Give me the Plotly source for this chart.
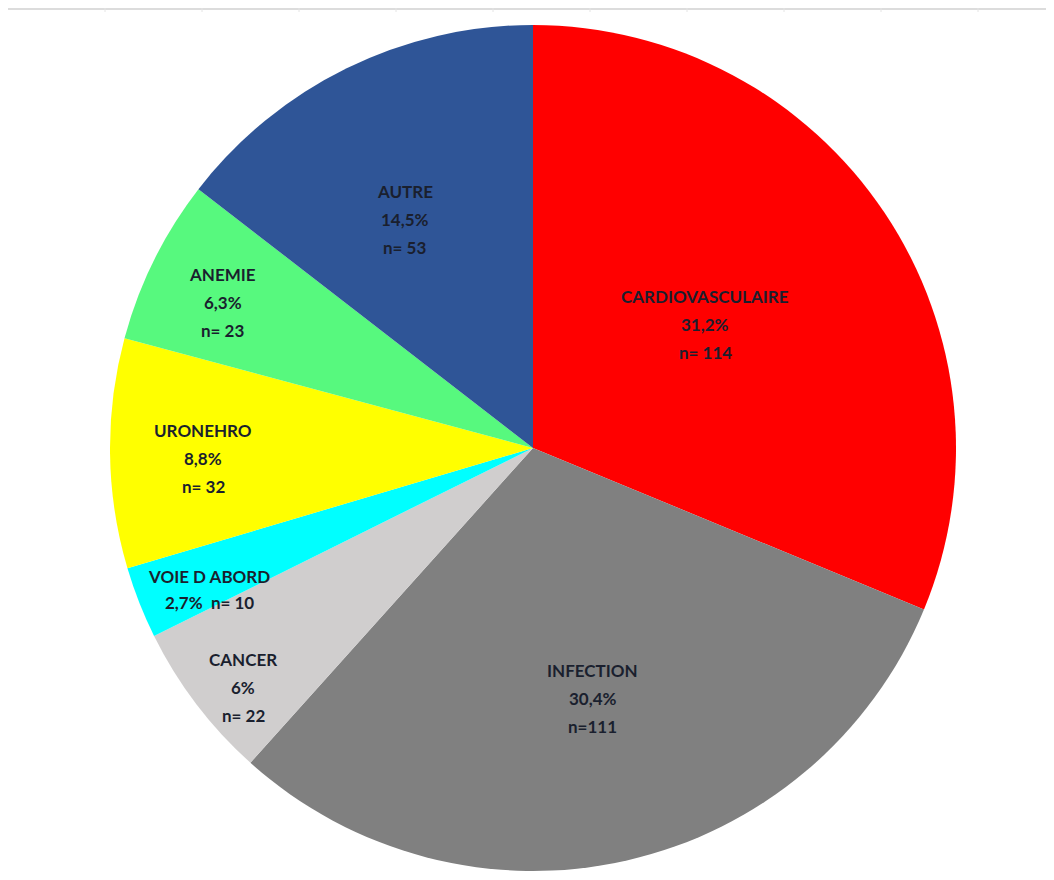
import math
import plotly.graph_objects as go

# ---- data ----
categories = ["CARDIOVASCULAIRE", "INFECTION", "CANCER", "VOIE D ABORD",
              "URONEHRO", "ANEMIE", "AUTRE"]
counts = [114, 111, 22, 10, 32, 23, 53]
pct_labels = ["31,2%", "30,4%", "6%", "2,7%", "8,8%", "6,3%", "14,5%"]
n_labels = ["n= 114", "n=111", "n= 22", "n= 10", "n= 32", "n= 23", "n= 53"]

# ---- style ----
colors = ["#FF0000", "#808080", "#D0CECE", "#00FFFF", "#FFFF00", "#57F97E", "#2F5597"]
label_radius = [0.50, 0.61, 0.888, 0.836, 0.78, 0.81, 0.62]   # fraction of R
label_dangle = [-1.8, -0.6, -2.3, -2.2, -1.0, -1.2, -3.2]     # degrees from slice middle
PAGE_OFF = 8  # default body margin of the html page
W, H = 1054 - PAGE_OFF, 880 - PAGE_OFF
CX, CY, R = 533 - PAGE_OFF, 448 - PAGE_OFF, 423  # pie centre / radius in px
TXT = "#1a1f2e"
FONT = "Lato"

dom_x = [(CX - R) / W, (CX + R) / W]
dom_y = [1 - (CY + R) / H, 1 - (CY - R) / H]

fig = go.Figure(go.Pie(
    labels=categories, values=counts, sort=False, direction="clockwise",
    rotation=0, marker=dict(colors=colors, line=dict(width=0)),
    textinfo="none", hoverinfo="label+value+percent", showlegend=False,
    domain=dict(x=dom_x, y=dom_y),
))

total = sum(counts)
cum = 0
annotations = []
for i, c in enumerate(categories):
    mid = (cum + counts[i] / 2) / total * 2 * math.pi + math.radians(label_dangle[i])
    cum += counts[i]
    px = CX + label_radius[i] * R * math.sin(mid)
    py = CY - label_radius[i] * R * math.cos(mid)
    if c == "VOIE D ABORD":
        lines = [c, pct_labels[i] + "  " + n_labels[i]]
        step = 26
    else:
        lines = [c, pct_labels[i], n_labels[i]]
        step = 28
    k = len(lines)
    for j, t in enumerate(lines):
        off = (j - (k - 1) / 2) * step
        annotations.append(dict(
            x=px / W, y=1 - (py + off) / H, xref="paper", yref="paper",
            text="<b>%s</b>" % t, showarrow=False,
            font=dict(family=FONT, size=17, color=TXT),
            xanchor="center", yanchor="middle",
        ))

shapes = [dict(type="line", xref="paper", yref="paper", x0=0, x1=1,
               y0=1 - 1 / H, y1=1 - 1 / H, line=dict(color="#dcdcdc", width=2))]
for tx in range(97, W, 97):
    shapes.append(dict(type="line", xref="paper", yref="paper",
                       x0=tx / W, x1=tx / W, y0=1, y1=1 - 4 / H,
                       line=dict(color="#e4e4e4", width=1)))

fig.update_layout(
    width=W, height=H, margin=dict(l=0, r=0, t=0, b=0),
    paper_bgcolor="white", plot_bgcolor="white",
    annotations=annotations, shapes=shapes,
)
fig.write_html("out.html")
